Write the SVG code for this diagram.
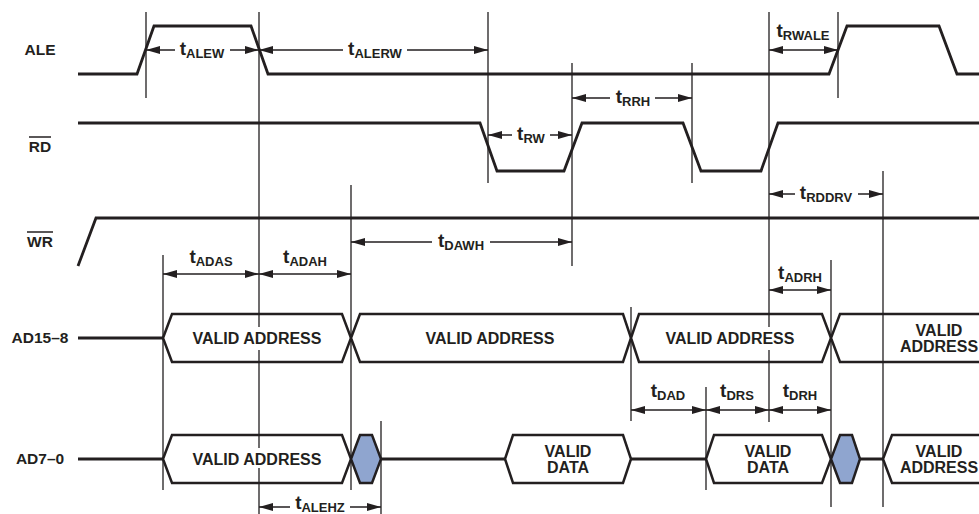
<svg xmlns="http://www.w3.org/2000/svg" width="979" height="514" viewBox="0 0 979 514">
<style>
text{font-family:"Liberation Sans",Arial,Helvetica,sans-serif;font-weight:bold;fill:#231f20}
.name{font-size:15.5px;text-anchor:middle}
.bt{font-size:16px;text-anchor:middle}
.tm{font-size:19px;text-anchor:middle}
.sb{font-size:13px}
.sig{fill:none;stroke:#231f20;stroke-width:2.8;stroke-linejoin:miter}
.bus{fill:#fff;stroke:#231f20;stroke-width:2.5;stroke-linejoin:miter}
.hz{fill:#8fa5cf;stroke:#231f20;stroke-width:2.5}
.ov{stroke:#231f20;stroke-width:1.5}
.ref{fill:none;stroke:#231f20;stroke-width:1.3}
.dim{fill:none;stroke:#231f20;stroke-width:1.3;marker-start:url(#ah);marker-end:url(#ah)}
</style>
<defs>
<marker id="ah" markerUnits="userSpaceOnUse" markerWidth="14" markerHeight="8" refX="14" refY="4" orient="auto-start-reverse" viewBox="0 0 14 8">
<path d="M0,0 L14,4 L0,8 z" fill="#231f20"/>
</marker>
</defs>
<rect width="979" height="514" fill="#fff"/>

<g id="ALE">
<text class="name" x="40" y="54.5">ALE</text>
<path class="sig" d="M78,74 H137 L154,26 H251 L268,74 H829 L847,26 H939 L957,74 H979"/>
</g>

<g id="RD">
<text class="name" x="40" y="152">RD</text>
<line class="ov" x1="29" y1="137" x2="51" y2="137"/>
<path class="sig" d="M78,123 H480 L497,171 H564 L582,123 H683 L701,171 H761 L778,123 H979"/>
</g>

<g id="WR">
<text class="name" x="40" y="247">WR</text>
<line class="ov" x1="27" y1="232" x2="53" y2="232"/>
<path class="sig" d="M78,266 L96,218 H979"/>
</g>

<g id="AD15-8">
<text class="name" x="40" y="343">AD15–8</text>
<path class="sig" d="M78,338 H163"/>
<path class="bus" d="M163,338 L172,314 H342 L351,338 L342,362 H172 Z"/>
<path class="bus" d="M351,338 L360,314 H623 L631,338 L623,362 H360 Z"/>
<path class="bus" d="M631,338 L639,314 H822 L831,338 L822,362 H639 Z"/>
<path class="bus" d="M981,314 H840 L831,338 L840,362 H981"/>
<text class="bt" x="257" y="344">VALID ADDRESS</text>
<text class="bt" x="490" y="344">VALID ADDRESS</text>
<text class="bt" x="730" y="344">VALID ADDRESS</text>
<text class="bt" x="939" y="336">VALID</text>
<text class="bt" x="939" y="352">ADDRESS</text>
</g>

<g id="AD7-0">
<text class="name" x="40" y="464">AD7–0</text>
<path class="sig" d="M78,459 H163 M381,459 H505 M631,459 H706 M860,459 H883"/>
<path class="bus" d="M163,459 L172,435 H342 L351,459 L342,483 H172 Z"/>
<path class="hz" d="M351,459 L360,435 H372 L381,459 L372,483 H360 Z"/>
<path class="bus" d="M505,459 L513,435 H623 L631,459 L623,483 H513 Z"/>
<path class="bus" d="M706,459 L714,435 H822 L831,459 L822,483 H714 Z"/>
<path class="hz" d="M831,459 L840,435 H852 L860,459 L852,483 H840 Z"/>
<path class="bus" d="M981,435 H892 L883,459 L892,483 H981"/>
<text class="bt" x="257" y="465">VALID ADDRESS</text>
<text class="bt" x="568" y="457">VALID</text>
<text class="bt" x="568" y="473">DATA</text>
<text class="bt" x="768" y="457">VALID</text>
<text class="bt" x="768" y="473">DATA</text>
<text class="bt" x="939" y="457">VALID</text>
<text class="bt" x="939" y="473">ADDRESS</text>
</g>

<g id="connectors">
<path class="ref" d="M146,12 V98 M259,12 V327 M259,350 V448 M259,468 V514 M488,12 V183 M572,63 V266 M692,63 V183 M769,12 V327 M769,350 V422 M838,12 V98 M883,171 V507 M163,255 V490 M351,185 V490 M631,307 V421 M831,260 V507 M706,387 V490 M381,421 V514"/>

<path class="dim" d="M146,50 H175 M230,50 H259"/>
<text class="tm" x="202" y="55">t<tspan class="sb" dy="3">ALEW</tspan></text>

<path class="dim" d="M259,50 H343 M407,50 H488"/>
<text class="tm" x="375" y="55">t<tspan class="sb" dy="3">ALERW</tspan></text>

<path class="dim" d="M769,50 H838"/>
<text class="tm" x="803" y="37">t<tspan class="sb" dy="3">RWALE</tspan></text>

<path class="dim" d="M488,135 H512 M550,135 H572"/>
<text class="tm" x="531" y="140">t<tspan class="sb" dy="3">RW</tspan></text>

<path class="dim" d="M572,98 H610 M655,98 H692"/>
<text class="tm" x="633" y="103">t<tspan class="sb" dy="3">RRH</tspan></text>

<path class="dim" d="M769,194 H795 M858,194 H883"/>
<text class="tm" x="826" y="199">t<tspan class="sb" dy="3">RDDRV</tspan></text>

<path class="dim" d="M351,242 H432 M490,242 H572"/>
<text class="tm" x="461" y="247">t<tspan class="sb" dy="3">DAWH</tspan></text>

<path class="dim" d="M163,274 H259"/>
<text class="tm" x="211" y="263">t<tspan class="sb" dy="3">ADAS</tspan></text>

<path class="dim" d="M259,274 H351"/>
<text class="tm" x="305" y="263">t<tspan class="sb" dy="3">ADAH</tspan></text>

<path class="dim" d="M769,290 H831"/>
<text class="tm" x="800" y="279">t<tspan class="sb" dy="3">ADRH</tspan></text>

<path class="dim" d="M631,410 H706"/>
<text class="tm" x="668" y="397">t<tspan class="sb" dy="3">DAD</tspan></text>

<path class="dim" d="M706,410 H769"/>
<text class="tm" x="737" y="397">t<tspan class="sb" dy="3">DRS</tspan></text>

<path class="dim" d="M769,410 H831"/>
<text class="tm" x="800" y="397">t<tspan class="sb" dy="3">DRH</tspan></text>

<path class="dim" d="M259,507 H290 M350,507 H381"/>
<text class="tm" x="320" y="509">t<tspan class="sb" dy="3">ALEHZ</tspan></text>
</g>
</svg>
